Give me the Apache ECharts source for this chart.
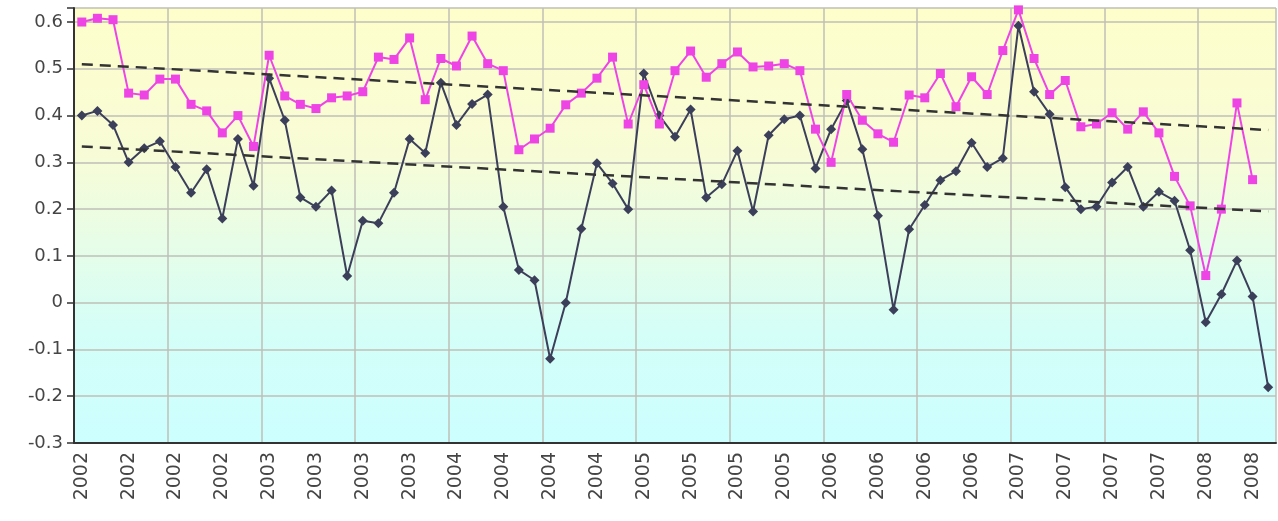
<!DOCTYPE html>
<html>
<head>
<meta charset="utf-8">
<script src="https://cdn.jsdelivr.net/npm/echarts@6/dist/echarts.min.js"></script>
<style>
html,body{margin:0;padding:0;background:#ffffff;}
#chart{width:1278px;height:521px;}
</style>
</head>
<body>
<div id="chart"></div>
<script>
// Month categories (Jan 2002 .. May 2008), labelled by year
var categories = [
 '2002','2002','2002','2002','2002','2002','2002','2002','2002','2002','2002','2002',
 '2003','2003','2003','2003','2003','2003','2003','2003','2003','2003','2003','2003',
 '2004','2004','2004','2004','2004','2004','2004','2004','2004','2004','2004','2004',
 '2005','2005','2005','2005','2005','2005','2005','2005','2005','2005','2005','2005',
 '2006','2006','2006','2006','2006','2006','2006','2006','2006','2006','2006','2006',
 '2007','2007','2007','2007','2007','2007','2007','2007','2007','2007','2007','2007',
 '2008','2008','2008','2008','2008'
];

var darkSeries = [
 0.40, 0.41, 0.38, 0.30, 0.33, 0.345, 0.29, 0.235, 0.285, 0.18, 0.35, 0.25,
 0.48, 0.39, 0.225, 0.205, 0.24, 0.057, 0.175, 0.17, 0.235, 0.35, 0.32, 0.47,
 0.38, 0.425, 0.445, 0.205, 0.07, 0.048, -0.12, 0.0, 0.158, 0.298, 0.255, 0.20,
 0.49, 0.40, 0.355, 0.413, 0.225, 0.253, 0.325, 0.195, 0.358, 0.392, 0.40, 0.287,
 0.371, 0.432, 0.328, 0.186, -0.015, 0.157, 0.209, 0.262, 0.281, 0.342, 0.29, 0.309,
 0.592, 0.451, 0.403, 0.247, 0.200, 0.205, 0.257, 0.29, 0.205, 0.237, 0.218, 0.112,
 -0.042, 0.018, 0.09, 0.013, -0.181
];

var pinkSeries = [
 0.60, 0.608, 0.605, 0.448, 0.444, 0.478, 0.478, 0.424, 0.41, 0.363, 0.40, 0.334,
 0.529, 0.442, 0.424, 0.415, 0.438, 0.442, 0.451, 0.525, 0.520, 0.566, 0.434, 0.522,
 0.506, 0.570, 0.511, 0.496, 0.327, 0.350, 0.373, 0.423, 0.448, 0.480, 0.525, 0.382,
 0.466, 0.382, 0.496, 0.538, 0.482, 0.511, 0.536, 0.504, 0.506, 0.511, 0.496, 0.371,
 0.30, 0.445, 0.390, 0.361, 0.343, 0.444, 0.438, 0.490, 0.419, 0.483, 0.445, 0.539,
 0.626, 0.522, 0.445, 0.475, 0.376, 0.382, 0.406, 0.371, 0.408, 0.363, 0.270, 0.207,
 0.058, 0.20, 0.427, 0.263, null
];

// Trend line end values (first and last month)
var trendPink = [0.51, 0.369];
var trendDark = [0.334, 0.195];

function trendData(ends) {
  var arr = [];
  for (var i = 0; i < categories.length; i++) arr.push(null);
  arr[0] = ends[0];
  arr[categories.length - 1] = ends[1];
  return arr;
}

var chart = echarts.init(document.getElementById('chart'), null, {renderer: 'canvas'});
var labelColor = '#454545';
var gridColor = '#bfbfb7';

chart.setOption({
  animation: false,
  backgroundColor: '#ffffff',
  grid: {
    left: 74, right: 2, top: 8, bottom: 78,
    show: true,
    borderWidth: 0,
    backgroundColor: new echarts.graphic.LinearGradient(0, 0, 0, 1, [
      {offset: 0, color: '#fefecb'},
      {offset: 0.33, color: '#f8fcd6'},
      {offset: 0.55, color: '#e6fde8'},
      {offset: 0.75, color: '#d4fef8'},
      {offset: 1, color: '#ccffff'}
    ])
  },
  xAxis: {
    type: 'category',
    data: categories,
    boundaryGap: true,
    axisLine: {onZero: false, lineStyle: {color: '#333333', width: 2}},
    axisTick: {interval: 5, length: 6, lineStyle: {color: '#333333', width: 1.5}},
    axisLabel: {
      interval: 2, rotate: 90, margin: 9,
      color: labelColor, fontSize: 19, fontFamily: 'DejaVu Sans'
    },
    splitLine: {show: true, interval: 5, lineStyle: {color: gridColor, width: 1.5}}
  },
  yAxis: {
    type: 'value',
    min: -0.3, max: 0.63, interval: 0.1,
    axisLine: {show: true, lineStyle: {color: '#333333', width: 2}},
    axisTick: {show: true, length: 7, lineStyle: {color: '#333333', width: 1.5}},
    axisLabel: {
      color: labelColor, fontSize: 18, fontFamily: 'DejaVu Sans', margin: 11,
      formatter: function (v) {
        var t = v * 10;
        if (Math.abs(t - Math.round(t)) > 1e-6) return '';
        return String(Math.round(t) / 10);
      }
    },
    splitLine: {show: true, lineStyle: {color: gridColor, width: 1.5}}
  },
  series: [
    {
      name: 'dark', type: 'line', data: darkSeries,
      symbol: 'diamond', symbolSize: 10,
      lineStyle: {color: '#3c3f5a', width: 2},
      itemStyle: {color: '#3c3f5a'},
      z: 3
    },
    {
      name: 'pink', type: 'line', data: pinkSeries,
      symbol: 'rect', symbolSize: 9,
      lineStyle: {color: '#ee44e6', width: 2},
      itemStyle: {color: '#ee44e6'},
      z: 4
    },
    {
      name: 'trendPink', type: 'line', data: trendData(trendPink),
      connectNulls: true, symbol: 'none',
      lineStyle: {color: '#333333', width: 2.5, type: [11, 7]},
      z: 5
    },
    {
      name: 'trendDark', type: 'line', data: trendData(trendDark),
      connectNulls: true, symbol: 'none',
      lineStyle: {color: '#333333', width: 2.5, type: [11, 7]},
      z: 5
    }
  ]
});
</script>
</body>
</html>
